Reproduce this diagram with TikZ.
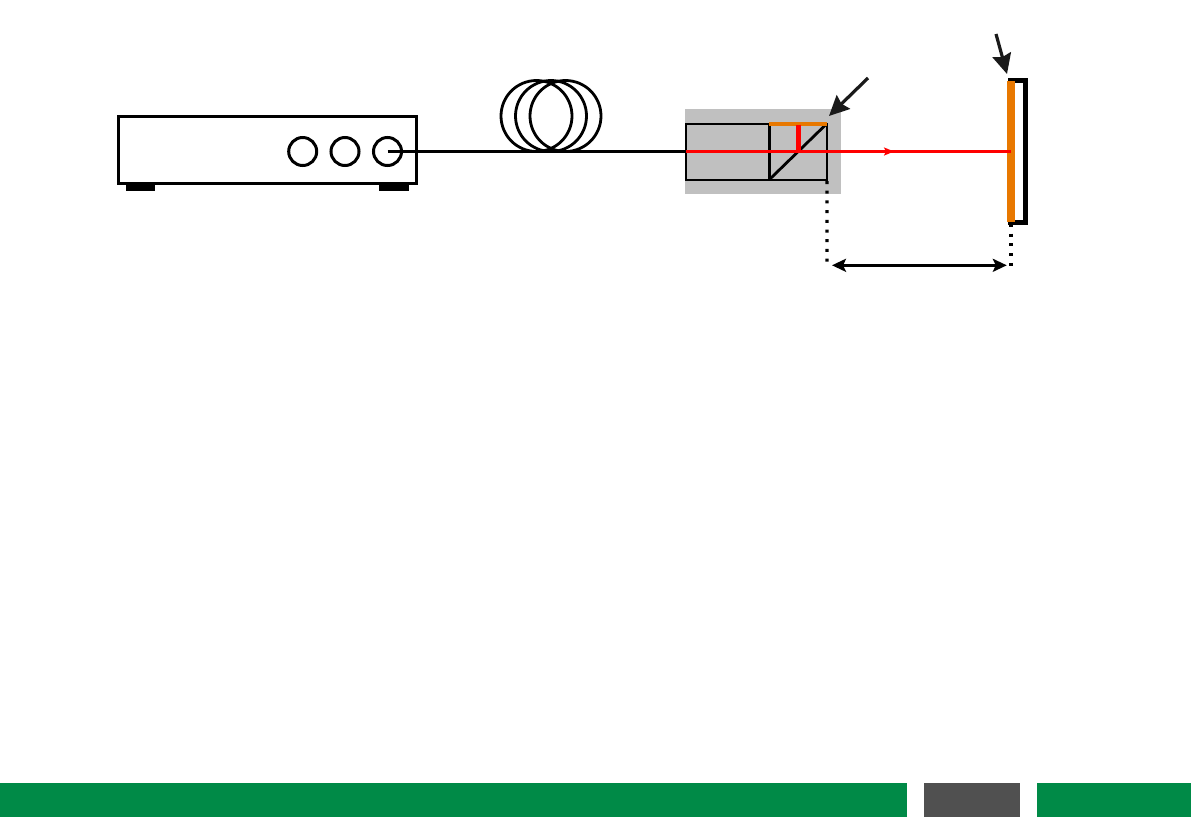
\documentclass[tikz,border=0pt]{standalone}
\usetikzlibrary{arrows.meta}
\definecolor{barGreen}{HTML}{008A47}
\definecolor{barGray}{HTML}{505050}
\definecolor{hous}{HTML}{C0C0C0}
\definecolor{coat}{HTML}{E87800}
\definecolor{arrowBlack}{HTML}{1A1A1A}
\tikzset{
  boxat/.style args={#1x#2}{rectangle,inner sep=0pt,outer sep=0pt,minimum width=#1pt,minimum height=#2pt},
  outline/.style={draw=black,line width=3pt},
  thinoutline/.style={draw=black,line width=2pt},
  port/.style={circle,draw=black,line width=3pt,inner sep=0pt,outer sep=0pt,minimum size=28pt},
  coil/.style={circle,draw=black,line width=2.8pt,inner sep=0pt,outer sep=0pt,minimum size=71pt},
  foot/.style={fill=black},
  fiber/.style={draw=black,line width=3.6pt},
  beam/.style={draw=red,line width=2.9pt},
  callout/.style={draw=arrowBlack,line width=3.2pt,-{Stealth[length=20pt,width=19pt,inset=2.5pt]}},
  dots/.style={draw=black,line width=3.4pt,dash pattern=on 3pt off 6.7pt},
  span/.style={draw=black,line width=3pt,{Stealth[length=14pt,width=13pt,inset=3pt]}-{Stealth[length=14pt,width=13pt,inset=3pt]}},
  barfill/.style={boxat=#1}
}
\begin{document}
\begin{tikzpicture}[x=1pt,y=-1pt]
\useasboundingbox (0,0) rectangle (1191,817);
% footer bars
\node[barfill=907x34,fill=barGreen] (barA) at (453.5,800) {};
\node[barfill=96x34,fill=barGray] (barB) at (972,800) {};
\node[barfill=154x34,fill=barGreen] (barC) at (1114,800) {};
% source
\node[boxat=29x8,foot] (footL) at (140.5,187) {};
\node[boxat=30x8,foot] (footR) at (394,187) {};
\node[boxat=298x67,outline] (source) at (267,149.5) {};
\node[port] (p1) at (302.7,151.5) {};
\node[port] (p2) at (345,151.5) {};
\node[port] (p3) at (387.5,151.5) {};
% coils
\node[coil] (c1) at (536.5,116) {};
\node[coil] (c2) at (551,116) {};
\node[coil] (c3) at (565.5,116) {};
% housing
\node[boxat=156x85,fill=hous] (housing) at (763,151.5) {};
\node[boxat=83.5x56,thinoutline] (collimator) at (727.7,151.5) {};
\node[boxat=57.5x56,thinoutline] (cube) at (798.2,151.5) {};
\draw[line width=2.8pt,black] (cube.south west) -- (cube.north east);
\draw[draw=black,line width=3pt] (cube.north west) -- (cube.south west);
% fiber
\draw[fiber] (p3.center) -- (collimator.west);
% reference mirror and beam
\coordinate (beamEnd) at (1011,151.5);
\coordinate (beamMid) at (894,151.5);
\coordinate (splitTop) at (798.3,123);
\coordinate (splitBot) at (798.3,151.5);
\draw[draw=coat,line width=4pt] (cube.north west) -- (cube.north east);
\draw[draw=red,line width=4.6pt] (splitTop) ++(0,1.5) -- (splitBot);
% sample
\draw[draw=black,line width=4.6pt] (1008,80.5) -- (1025.6,80.5) -- (1025.6,222.5) -- (1008,222.5);
\node[boxat=8x141,fill=coat] (sample) at (1011,151.5) {};
\draw[beam] (collimator.west |- beamEnd) -- (beamEnd);
\draw[beam,-{Stealth[length=10pt,width=8pt,inset=2pt]}] (collimator.west |- beamEnd) -- (beamMid);
% callouts
\coordinate (callA) at (868,78);
\coordinate (tipA) at (829,116);
\coordinate (callB) at (996,34);
\coordinate (tipB) at (1007,74);
\draw[callout] (callA) -- (tipA);
\draw[callout] (callB) -- (tipB);
% dimension
\coordinate (dimL) at (827,263);
\coordinate (dimR) at (1011,266);
\draw[dots] (cube.south east) ++(0,1.5) -- (dimL);
\draw[dots] (1011,224) -- (dimR);
\coordinate (spanL) at (832,265.3);
\coordinate (spanR) at (1006.8,265.3);
\draw[span] (spanL) -- (spanR);
\end{tikzpicture}
\end{document}
